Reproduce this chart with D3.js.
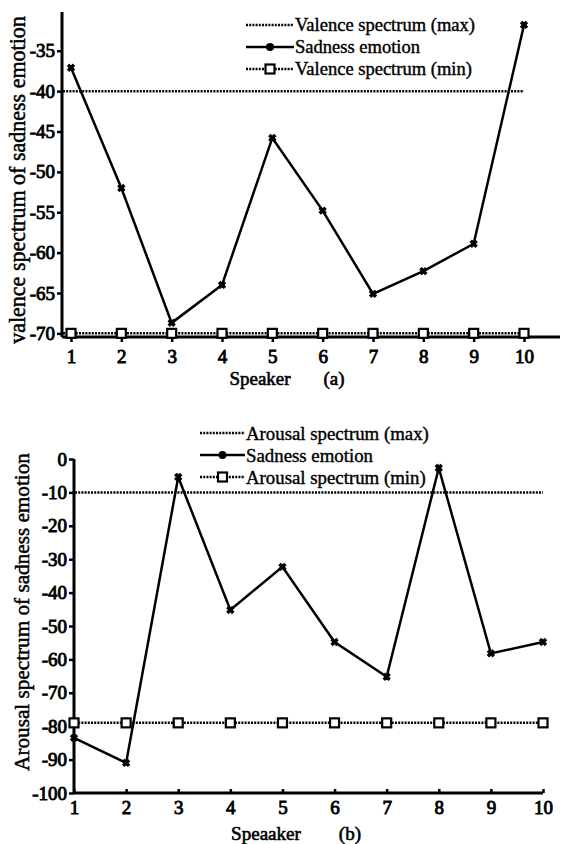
<!DOCTYPE html>
<html>
<head>
<meta charset="utf-8">
<script src="https://cdn.jsdelivr.net/npm/d3@7"></script>
<style>
  body { margin: 0; background: #fff; }
  svg { display: block; }
</style>
</head>
<body>
<svg width="562" height="844"></svg>
<script>
const speakers = [1, 2, 3, 4, 5, 6, 7, 8, 9, 10];

// (a) valence
const valenceSadness = [-37.1, -52, -68.7, -64, -45.8, -54.8, -65.1, -62.3, -58.9, -31.8];
const valenceMax = [-40, -40, -40, -40, -40, -40, -40, -40, -40, -40];
const valenceMin = [-70, -70, -70, -70, -70, -70, -70, -70, -70, -70];
const valenceTicks = [-70, -65, -60, -55, -50, -45, -40, -35];
const valenceLegend = ["Valence spectrum (max)", "Sadness emotion", "Valence spectrum (min)"];

// (b) arousal
const arousalSadness = [-83.5, -91, -5.4, -45.2, -32.3, -54.8, -65.2, -2.7, -58.2, -54.8];
const arousalMax = [-10, -10, -10, -10, -10, -10, -10, -10, -10, -10];
const arousalMin = [-79, -79, -79, -79, -79, -79, -79, -79, -79, -79];
const arousalTicks = [-100, -90, -80, -70, -60, -50, -40, -30, -20, -10, 0];
const arousalLegend = ["Arousal spectrum (max)", "Sadness emotion", "Arousal spectrum (min)"];

const svg = d3.select("svg");
const DOTTED = "2,1.2";
const FONT = "'Liberation Serif', 'Times New Roman', serif";

// Scale a text's font size so it spans the given width
function fitText(sel, width) {
  const base = parseFloat(sel.style("font-size"));
  const len = sel.node().getComputedTextLength();
  if (len > 0) sel.style("font-size", (base * width) / len + "px");
  return sel;
}

// Serif text, thickened with a thin stroke (no bold face available)
function serif(sel, size, weight) {
  return sel
    .style("font-family", FONT)
    .style("font-size", size)
    .attr("fill", "#000")
    .attr("stroke", "#000")
    .attr("stroke-width", weight)
    .attr("paint-order", "stroke");
}

/**
 * Draws one panel of the figure
 */
function drawPanel(cfg) {
  const g = svg.append("g");
  const x = d3.scaleLinear().domain([1, 10]).range(cfg.xRange);
  const y = d3.scaleLinear().domain(cfg.yDomain).range(cfg.yRange);

  // Y axis
  const yAxis = g.append("g")
    .attr("transform", "translate(" + cfg.axisX + ",0)")
    .call(d3.axisLeft(y).tickValues(cfg.yTicks).tickFormat((d) => String(d))
      .tickSize(5).tickSizeOuter(0).tickPadding(2))
    .call((a) => a.select(".domain").remove())
    .attr("font-family", null)
    .style("font-family", FONT);
  yAxis.selectAll(".tick line").attr("stroke", "#000").attr("stroke-width", 2.5);
  serif(yAxis.selectAll(".tick text"), "19px", 0.9);
  g.append("line")
    .attr("x1", cfg.axisX).attr("x2", cfg.axisX)
    .attr("y1", cfg.yRange[1]).attr("y2", cfg.yRange[0])
    .attr("stroke", "#000").attr("stroke-width", 3);

  // X axis
  const xAxis = g.append("g")
    .attr("transform", "translate(0," + cfg.yRange[0] + ")")
    .call(d3.axisBottom(x).tickValues(speakers).tickFormat((d) => String(d))
      .tickSize(cfg.xTickSize).tickSizeOuter(0).tickPadding(cfg.xTickPad))
    .call((a) => a.select(".domain").remove())
    .attr("font-family", null)
    .style("font-family", FONT);
  xAxis.selectAll(".tick line").attr("stroke", "#000").attr("stroke-width", 2.5);
  serif(xAxis.selectAll(".tick text").attr("dy", "0.71em"), "19px", 0.9);
  g.append("line")
    .attr("x1", cfg.axisX).attr("x2", cfg.xAxisEnd)
    .attr("y1", cfg.yRange[0]).attr("y2", cfg.yRange[0])
    .attr("stroke", "#000").attr("stroke-width", 3);

  // Max line
  const flat = d3.line().x((d, i) => (i === 0 ? cfg.axisX + 1 : x(speakers[i]))).y((d) => y(d));
  g.append("path")
    .datum(cfg.max)
    .attr("d", flat)
    .attr("fill", "none")
    .attr("stroke", "#000")
    .attr("stroke-width", 2.5)
    .attr("stroke-dasharray", DOTTED);

  // Min line + squares
  g.append("path")
    .datum(cfg.min)
    .attr("d", flat)
    .attr("fill", "none")
    .attr("stroke", "#000")
    .attr("stroke-width", 2.5)
    .attr("stroke-dasharray", DOTTED);
  g.append("g")
    .selectAll("rect")
    .data(cfg.min)
    .enter()
    .append("rect")
    .attr("x", (d, i) => x(speakers[i]) - 4.5)
    .attr("y", (d) => y(d) - 4.5)
    .attr("width", 9)
    .attr("height", 9)
    .attr("fill", "#fff")
    .attr("stroke", "#000")
    .attr("stroke-width", 2.2);

  // Sadness line
  const line = d3.line().x((d, i) => x(speakers[i])).y((d) => y(d));
  g.append("path")
    .datum(cfg.sad)
    .attr("d", line)
    .attr("fill", "none")
    .attr("stroke", "#000")
    .attr("stroke-width", 2.5);
  g.append("g")
    .selectAll("path")
    .data(cfg.sad)
    .enter()
    .append("path")
    .attr("d", d3.symbol(d3.symbolCross, 30))
    .attr("transform", (d, i) => "translate(" + x(speakers[i]) + "," + y(d) + ") rotate(45)")
    .attr("fill", "#000")
    .attr("stroke", "#000")
    .attr("stroke-width", 1);

  // Legend
  const lg = g.append("g");
  let legendSize = null;
  cfg.legend.forEach((label, i) => {
    const ly = cfg.legendY + i * 22;
    const row = lg.append("g");
    row.append("line")
      .attr("x1", cfg.legendX).attr("x2", cfg.legendX + cfg.legendW)
      .attr("y1", ly).attr("y2", ly)
      .attr("stroke", "#000")
      .attr("stroke-width", 2.5)
      .attr("stroke-dasharray", i === 1 ? null : DOTTED);
    const mx = cfg.legendX + cfg.legendW / 2;
    if (i === 1) {
      row.append("circle").attr("cx", mx).attr("cy", ly).attr("r", 4).attr("fill", "#000");
    } else if (i === 2) {
      row.append("rect")
        .attr("x", mx - 4.5).attr("y", ly - 4.5)
        .attr("width", 9).attr("height", 9)
        .attr("fill", "#fff").attr("stroke", "#000").attr("stroke-width", 2.2);
    }
    const t = serif(row.append("text"), legendSize || "18px", 0.4)
      .attr("x", cfg.legendX + cfg.legendW + 1)
      .attr("y", ly)
      .attr("dy", "0.35em")
      .text(label);
    if (i === 0) {
      fitText(t, cfg.legendTextW);
      legendSize = t.style("font-size");
    }
  });

  // Axis titles
  const yt = serif(g.append("text"), "18px", 0.5)
    .attr("text-anchor", "middle")
    .attr("transform", "translate(" + cfg.yTitleX + "," + cfg.yTitleY + ")rotate(-90)")
    .attr("dy", "0.35em")
    .text(cfg.yTitle);
  fitText(yt, cfg.yTitleW);
  const xt = serif(g.append("text"), "18px", 0.6)
    .attr("text-anchor", "middle")
    .attr("x", cfg.xTitleX)
    .attr("y", cfg.xTitleY)
    .attr("dy", "0.35em")
    .text(cfg.xTitle);
  fitText(xt, cfg.xTitleW);
  serif(g.append("text"), xt.style("font-size"), 0.6)
    .attr("text-anchor", "middle")
    .attr("x", cfg.tagX)
    .attr("y", cfg.xTitleY)
    .attr("dy", "0.35em")
    .text(cfg.tag);
}

drawPanel({
  xRange: [71, 524],
  yDomain: [-70.45, -30.2],
  yRange: [337, 12],
  axisX: 62,
  xAxisEnd: 560,
  xTickSize: 5,
  xTickPad: 8,
  yTicks: valenceTicks,
  sad: valenceSadness,
  max: valenceMax,
  min: valenceMin,
  legend: valenceLegend,
  legendX: 246,
  legendW: 48,
  legendY: 25,
  legendTextW: 180,
  yTitle: "valence spectrum of sadness emotion",
  yTitleX: 17,
  yTitleY: 180,
  yTitleW: 328,
  xTitle: "Speaker",
  xTitleX: 260,
  xTitleY: 378,
  xTitleW: 61,
  tag: "(a)",
  tagX: 334,
});

drawPanel({
  xRange: [74, 543],
  yDomain: [-100, 0],
  yRange: [793, 459],
  axisX: 74,
  xAxisEnd: 543,
  xTickSize: -4,
  xTickPad: 8,
  yTicks: arousalTicks,
  sad: arousalSadness,
  max: arousalMax,
  min: arousalMin,
  legend: arousalLegend,
  legendX: 200,
  legendW: 45,
  legendY: 433,
  legendTextW: 183,
  yTitle: "Arousal spectrum of sadness emotion",
  yTitleX: 22,
  yTitleY: 612,
  yTitleW: 318,
  xTitle: "Speaaker",
  xTitleX: 266,
  xTitleY: 833,
  xTitleW: 70,
  tag: "(b)",
  tagX: 350,
});
</script>
</body>
</html>
